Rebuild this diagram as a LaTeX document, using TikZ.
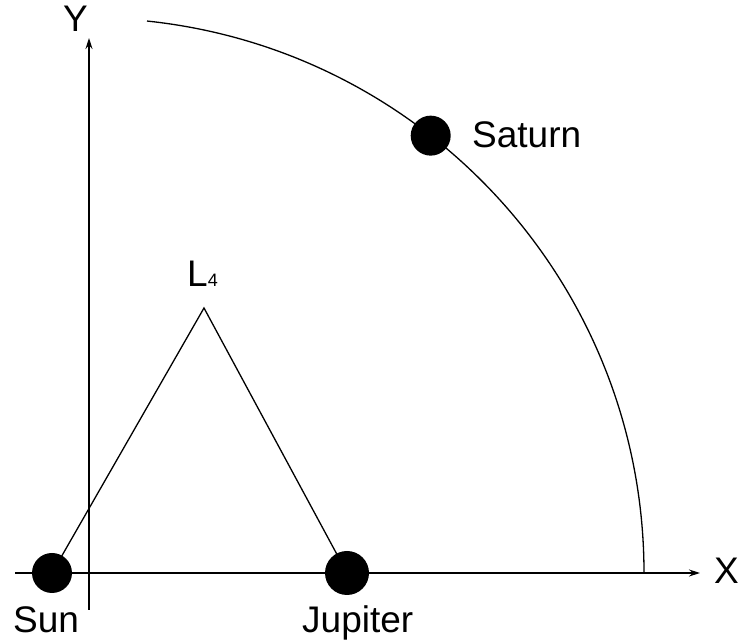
\documentclass[tikz,border=0pt]{standalone}
\usepackage{fontspec}
\setmainfont{Liberation Sans}
\usetikzlibrary{arrows.meta,calc}
\begin{document}
\begin{tikzpicture}[x=1pt,y=1pt,
  line/.style={line width=1.3pt, black},
  body/.style={circle, fill=black, inner sep=0pt},
  lbl/.style={font=\fontsize{37}{40}\selectfont, inner sep=0pt, anchor=base west}]
\useasboundingbox (0,0) rectangle (745,642);
% axes
\coordinate (xs) at (15,69);
\coordinate (xe) at (700,69);
\coordinate (ys) at (89,32);
\coordinate (ye) at (89,604);
\draw[line, -{Stealth[length=11pt,width=7pt]}] (xs) -- (xe);
\draw[line, -{Stealth[length=11pt,width=7pt]}] (ys) -- (ye);
\node[lbl] (xl) at (714,58) {X};
\node[lbl] (yl) at (63,610) {Y};
% orbit
\coordinate (c) at (89,69);
\draw[line] (644,69) arc[start angle=0, end angle=84, radius=555];
% triangle
\coordinate (sunc) at (52,69);
\coordinate (jupc) at (347,69);
\coordinate (l4) at (204,334);
\draw[line] (sunc) -- (l4) -- (jupc);
% bodies
\node[body, minimum size=40pt] (sun) at (sunc) {};
\node[body, minimum size=44pt] (jup) at (jupc) {};
\node[body, minimum size=40pt] (sat) at ($(c)+(52:555)$) {};
% labels
\node[lbl] (sunl) at (13,9) {Sun};
\node[lbl] (jupl) at (302,9) {Jupiter};
\node[lbl] (satl) at (472,494) {Saturn};
\node[inner sep=0pt, anchor=base west] (l4l) at (187,355) {\fontsize{37}{40}\selectfont L\fontsize{18}{20}\selectfont 4};
\end{tikzpicture}
\end{document}
